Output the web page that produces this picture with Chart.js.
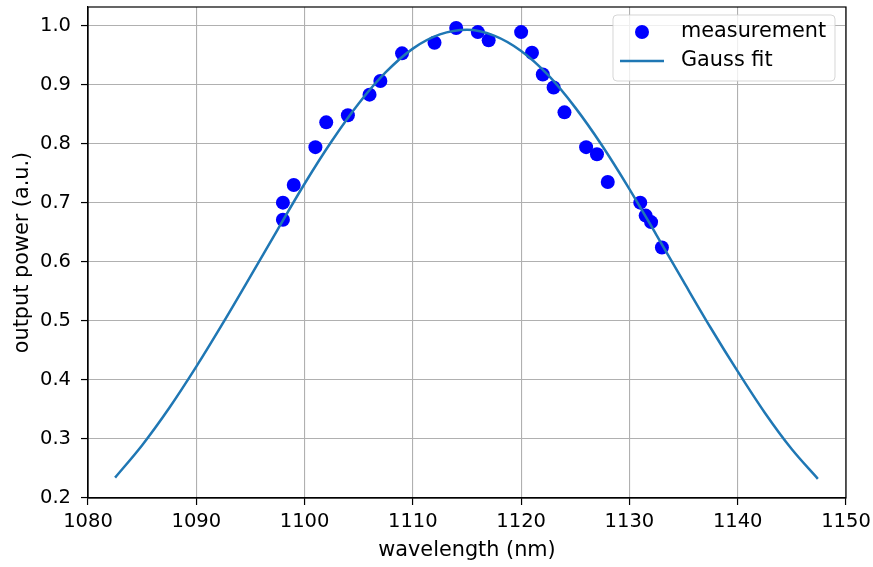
<!DOCTYPE html>
<html>
<head>
<meta charset="utf-8">
<script src="https://cdn.jsdelivr.net/npm/chart.js@4"></script>
<style>
  html, body { margin: 0; padding: 0; background: #fff; }
  #wrap { width: 873px; height: 567px; }
</style>
</head>
<body>
<div id="wrap"><canvas id="gaussChart" width="873" height="567"></canvas></div>
<script>
// measured points
const measX = [1098, 1098, 1099, 1101, 1102, 1104, 1106, 1107, 1109, 1112, 1114, 1116, 1117,
               1120, 1121, 1122, 1123, 1124, 1126, 1127, 1128, 1131, 1131.5, 1132, 1133];
const measY = [0.700, 0.671, 0.730, 0.794, 0.836, 0.848, 0.883, 0.906, 0.953, 0.971, 0.996, 0.989, 0.975,
               0.989, 0.954, 0.917, 0.895, 0.853, 0.794, 0.782, 0.735, 0.700, 0.678, 0.667, 0.624];

// fitted curve
const fitX = [1082.5, 1085, 1087.5, 1090, 1092.5, 1095, 1097.5, 1100, 1102.5, 1105, 1107.5, 1110, 1112.5,
              1115, 1117.5, 1120, 1122.5, 1125, 1127.5, 1130, 1132.5, 1135, 1137.5, 1140, 1142.5, 1145, 1147.4];
const fitY = [0.234, 0.289, 0.352, 0.422, 0.497, 0.575, 0.654, 0.732, 0.804, 0.868, 0.921, 0.961, 0.985,
              0.993, 0.983, 0.957, 0.916, 0.861, 0.796, 0.723, 0.645, 0.566, 0.488, 0.414, 0.344, 0.282, 0.232];

const xTicks = [1080, 1090, 1100, 1110, 1120, 1130, 1140, 1150];
const yTicks = [0.2, 0.3, 0.4, 0.5, 0.6, 0.7, 0.8, 0.9, 1.0];

const FONT = 'DejaVu Sans';
const TICK_SIZE = 19.5;
const TEXT_SIZE = 20.8;

// top/right frame + matplotlib-like legend
const framePlugin = {
  id: 'frame',
  afterDraw(chart) {
    const { ctx, chartArea: a } = chart;
    ctx.save();
    ctx.strokeStyle = '#000';
    ctx.lineWidth = 1.2;
    ctx.strokeRect(a.left, a.top, a.right - a.left, a.bottom - a.top);

    // legend box
    const bx = 613, by = 15, bw = 222, bh = 66, r = 4;
    ctx.beginPath();
    ctx.moveTo(bx + r, by);
    ctx.arcTo(bx + bw, by, bx + bw, by + bh, r);
    ctx.arcTo(bx + bw, by + bh, bx, by + bh, r);
    ctx.arcTo(bx, by + bh, bx, by, r);
    ctx.arcTo(bx, by, bx + bw, by, r);
    ctx.closePath();
    ctx.fillStyle = 'rgba(255,255,255,0.8)';
    ctx.fill();
    ctx.strokeStyle = 'rgba(204,204,204,0.8)';
    ctx.lineWidth = 1;
    ctx.stroke();

    ctx.fillStyle = 'blue';
    ctx.beginPath();
    ctx.arc(642, 32, 7, 0, Math.PI * 2);
    ctx.fill();

    ctx.strokeStyle = '#1f77b4';
    ctx.lineWidth = 2.5;
    ctx.beginPath();
    ctx.moveTo(620, 61);
    ctx.lineTo(664, 61);
    ctx.stroke();

    ctx.fillStyle = '#000';
    ctx.font = TEXT_SIZE + 'px "' + FONT + '"';
    ctx.textBaseline = 'middle';
    ctx.fillText('measurement', 681, 32);
    ctx.fillText('Gauss fit', 681, 61);
    ctx.restore();
  }
};

new Chart(document.getElementById('gaussChart'), {
  type: 'scatter',
  data: {
    datasets: [{
      label: 'measurement',
      data: measX.map((x, i) => ({ x: x, y: measY[i] })),
      backgroundColor: 'blue',
      borderColor: 'blue',
      pointRadius: 7,
      pointHoverRadius: 7,
      borderWidth: 0,
      order: 2
    }, {
      label: 'Gauss fit',
      data: fitX.map((x, i) => ({ x: x, y: fitY[i] })),
      showLine: true,
      borderColor: '#1f77b4',
      backgroundColor: '#1f77b4',
      borderWidth: 2.5,
      pointRadius: 0,
      cubicInterpolationMode: 'monotone',
      order: 1
    }]
  },
  options: {
    responsive: false,
    animation: false,
    devicePixelRatio: 1,
    layout: { padding: { top: 4, right: 27, left: 0, bottom: 0 } },
    plugins: {
      legend: { display: false },
      tooltip: { enabled: false }
    },
    scales: {
      x: {
        type: 'linear',
        min: 1080,
        max: 1150,
        afterFit: s => { s.height = 69; s.paddingLeft = 0; s.paddingRight = 0; },
        afterBuildTicks: s => { s.ticks = xTicks.map(v => ({ value: v })); },
        grid: { color: '#b0b0b0', lineWidth: 1.1, tickColor: '#000', tickLength: 7, tickWidth: 1.2 },
        border: { color: '#000', width: 1.2 },
        ticks: {
          color: '#000',
          font: { family: FONT, size: TICK_SIZE },
          padding: 5,
          maxRotation: 0,
          callback: v => String(v)
        },
        title: {
          display: true,
          text: 'wavelength (nm)',
          color: '#000',
          font: { family: FONT, size: TEXT_SIZE },
          padding: { top: 0, bottom: 4 }
        }
      },
      y: {
        type: 'linear',
        min: 0.1995,
        max: 1.0315,
        afterFit: s => { s.width = 88; s.paddingTop = 0; s.paddingBottom = 0; },
        afterBuildTicks: s => { s.ticks = yTicks.map(v => ({ value: v })); },
        grid: { color: '#b0b0b0', lineWidth: 1.1, tickColor: '#000', tickLength: 7, tickWidth: 1.2 },
        border: { color: '#000', width: 1.2 },
        ticks: {
          color: '#000',
          font: { family: FONT, size: TICK_SIZE },
          padding: 10,
          callback: v => v.toFixed(1)
        },
        title: {
          display: true,
          text: 'output power (a.u.)',
          color: '#000',
          font: { family: FONT, size: TEXT_SIZE },
          padding: { top: 10, bottom: 0 }
        }
      }
    }
  },
  plugins: [framePlugin]
});
</script>
</body>
</html>
